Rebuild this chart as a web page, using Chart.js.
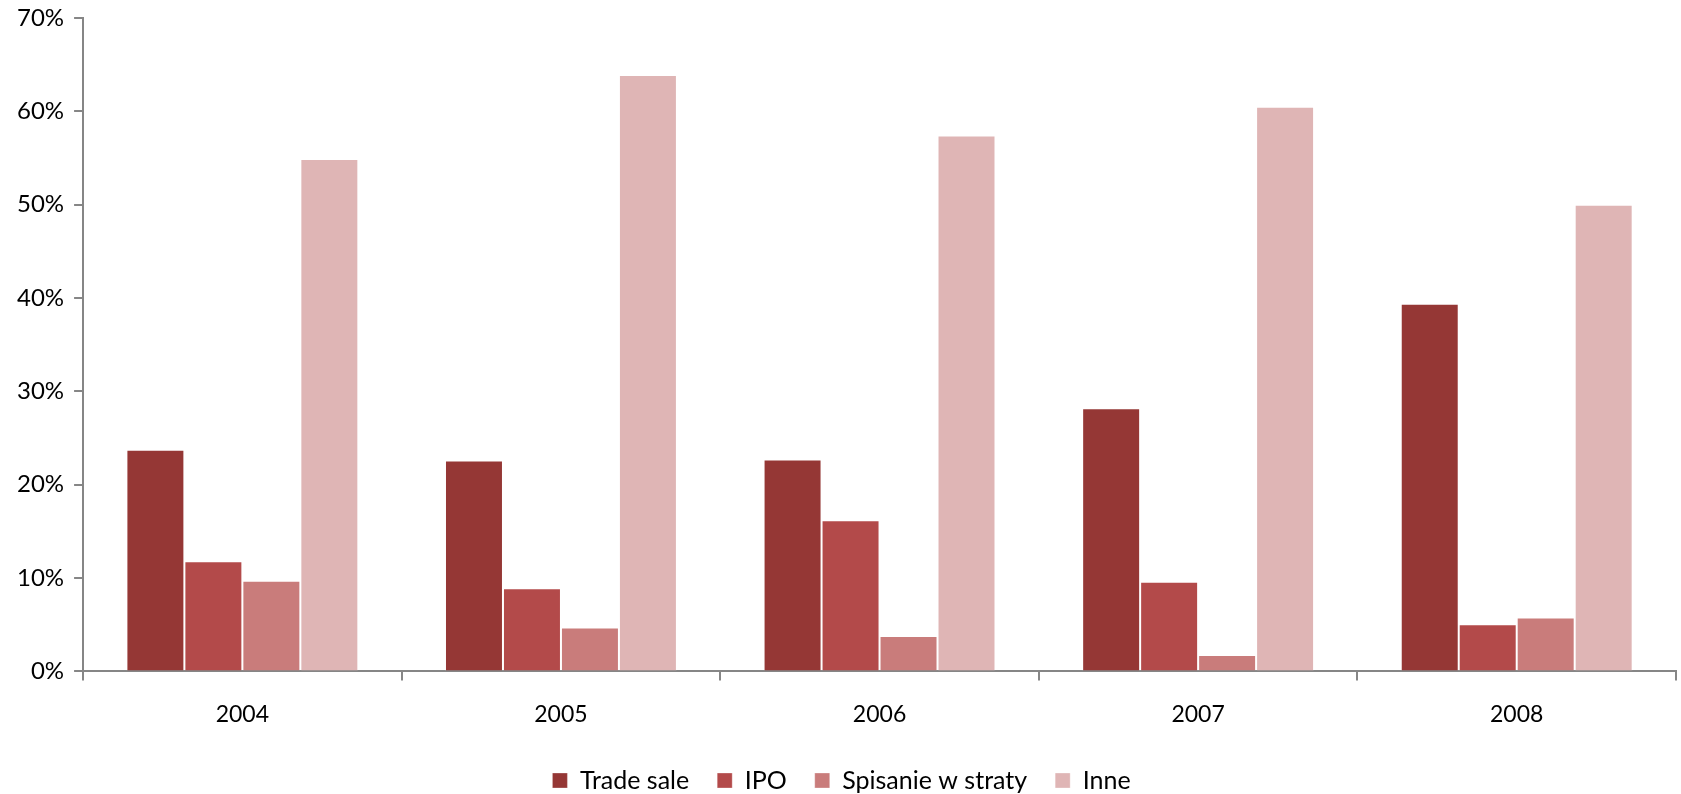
<!DOCTYPE html>
<html>
<head>
<meta charset="utf-8">
<script src="https://cdn.jsdelivr.net/npm/chart.js@4/dist/chart.umd.min.js"></script>
<style>
  html, body { margin: 0; padding: 0; background: #fff; }
  #wrap { width: 1681px; height: 794px; position: relative; }
</style>
</head>
<body>
<div id="wrap"><canvas id="chart"></canvas></div>
<script>
// --- DATA ---
const years = ['2004', '2005', '2006', '2007', '2008'];
const tradeSale = [23.75, 22.6, 22.7, 28.2, 39.4];
const ipo = [11.8, 8.9, 16.2, 9.6, 5.06];
const spisanie = [9.7, 4.7, 3.8, 1.76, 5.78];
const inne = [54.9, 63.9, 57.4, 60.5, 50.0];
const yTicks = [0, 10, 20, 30, 40, 50, 60, 70];

const FONT = "Lato, sans-serif";
const AXIS = '#868686';

const mk = (label, data, color) => ({
  label, data,
  backgroundColor: color,
  borderColor: 'rgba(255,255,255,0.3)',
  borderWidth: 1,
  categoryPercentage: 0.728,
  barPercentage: 1.0
});

function draw() {
  new Chart(document.getElementById('chart'), {
    type: 'bar',
    data: {
      labels: years,
      datasets: [
        mk('Trade sale', tradeSale, '#953735'),
        mk('IPO', ipo, '#B34A4A'),
        mk('Spisanie w straty', spisanie, '#C97C7B'),
        mk('Inne', inne, '#DFB5B5')
      ]
    },
    options: {
      responsive: true,
      maintainAspectRatio: false,
      animation: false,
      layout: { padding: { left: 7, right: 5, top: 0, bottom: -9 } },
      plugins: {
        tooltip: { enabled: false },
        legend: {
          position: 'bottom',
          labels: {
            font: { family: FONT, size: 25 },
            color: '#000',
            boxWidth: 15,
            boxHeight: 15,
            padding: 28
          }
        }
      },
      scales: {
        x: {
          grid: { drawOnChartArea: false, color: AXIS, tickLength: 9, lineWidth: 2 },
          border: { color: AXIS, width: 2 },
          ticks: { font: { family: FONT, size: 23 }, color: '#000', padding: 20 },
          afterFit: (s) => { s.height -= 8; }
        },
        y: {
          min: 0, max: 70,
          afterBuildTicks: (s) => { s.ticks = yTicks.map(v => ({ value: v })); },
          afterFit: (s) => { s.paddingTop = 18; },
          grid: { drawOnChartArea: false, color: AXIS, tickLength: 9, lineWidth: 2 },
          border: { color: AXIS, width: 2 },
          ticks: {
            font: { family: FONT, size: 24 }, color: '#000', padding: 10,
            callback: (v) => v + '%'
          }
        }
      }
    }
  });
}

document.fonts.load('24px Lato').then(draw, draw);
</script>
</body>
</html>
